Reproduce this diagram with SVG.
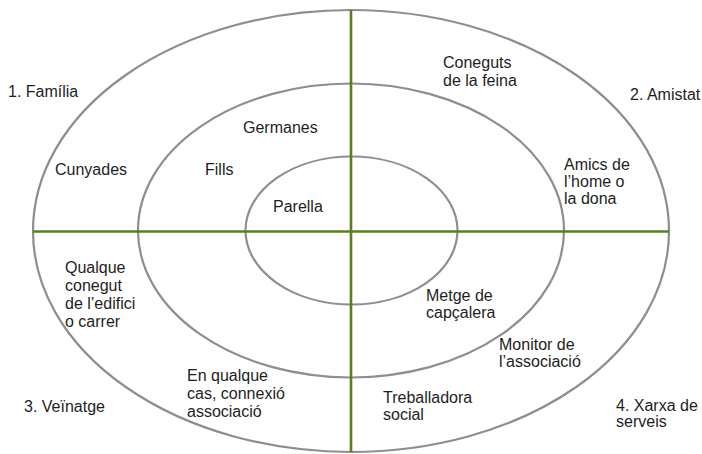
<svg xmlns="http://www.w3.org/2000/svg" width="702" height="454" viewBox="0 0 702 454">
<style>
.ring{fill:none;stroke:#8e8e8e;stroke-width:2.2}
.axis{stroke:#5b7f1f;stroke-width:2.6}
text{font-family:"Liberation Sans",Arial,sans-serif;font-size:16px;fill:#1e1e1e}
</style>
<rect width="702" height="454" fill="#ffffff"/>
<g id="rings">
<ellipse id="outer" class="ring" cx="351" cy="231" rx="318" ry="221"/>
<ellipse id="middle" class="ring" cx="351" cy="230.5" rx="213" ry="147"/>
<ellipse id="inner" class="ring" cx="351.5" cy="230.5" rx="106" ry="74"/>
</g>
<g id="connectors">
<line class="axis" x1="351" y1="10" x2="351" y2="452"/>
<line class="axis" x1="33" y1="231.5" x2="669" y2="231.5"/>
</g>
<g id="q1">
<text x="8" y="97">1. Família</text>
<text x="55" y="175">Cunyades</text>
<text x="243" y="133">Germanes</text>
<text x="205" y="175">Fills</text>
<text x="273" y="212">Parella</text>
</g>
<g id="q2">
<text x="443" y="68">Coneguts</text>
<text x="443" y="86">de la feina</text>
<text x="630" y="100">2. Amistat</text>
<text x="564" y="170">Amics de</text>
<text x="564" y="187">l’home o</text>
<text x="564" y="204">la dona</text>
</g>
<g id="q3">
<text x="65" y="273">Qualque</text>
<text x="65" y="290.5">conegut</text>
<text x="65" y="308.5">de l’edifici</text>
<text x="65" y="327">o carrer</text>
<text x="24" y="412">3. Veïnatge</text>
<text x="187" y="381">En qualque</text>
<text x="187" y="399">cas, connexió</text>
<text x="187" y="417">associació</text>
</g>
<g id="q4">
<text x="426" y="301">Metge de</text>
<text x="426" y="318">capçalera</text>
<text x="499" y="350">Monitor de</text>
<text x="499" y="367">l’associació</text>
<text x="383" y="403">Treballadora</text>
<text x="383" y="420">social</text>
<text x="616" y="411">4. Xarxa de</text>
<text x="616" y="427">serveis</text>
</g>
</svg>
